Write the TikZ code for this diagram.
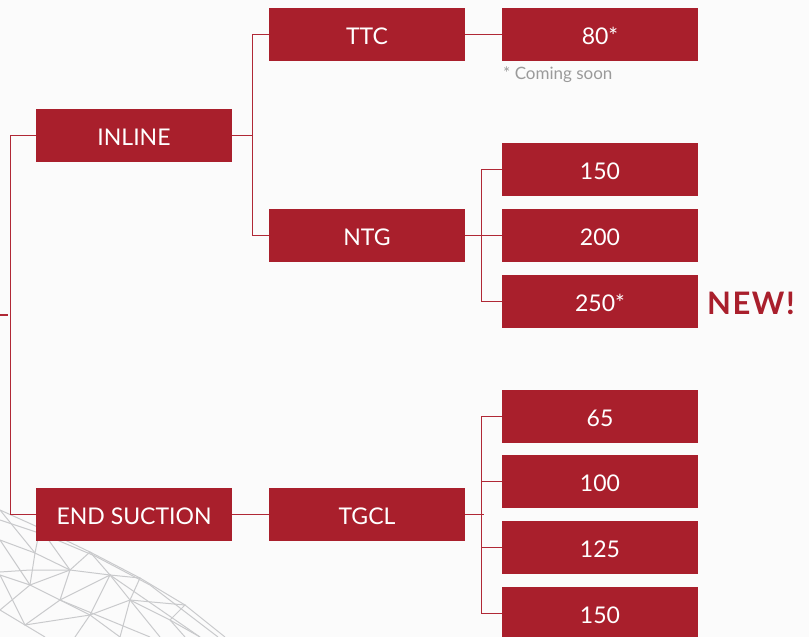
\documentclass[tikz,border=0pt]{standalone}
\usepackage{fontspec}
\setmainfont{Lato}
\definecolor{boxred}{HTML}{A91F2C}
\definecolor{linered}{HTML}{B02836}
\definecolor{bg}{HTML}{FBFBFB}
\definecolor{meshgray}{HTML}{C9CACC}
\definecolor{notegray}{HTML}{9A9A9A}
\tikzset{
  prodbox/.style={rectangle, fill=boxred, minimum width=196pt, minimum height=53pt,
    inner sep=0pt, text=white, font=\fontsize{23}{23}\selectfont,
    text height=19.5pt, text depth=0pt},
  conn/.style={draw=linered, line width=1.2pt},
  meshline/.style={draw=meshgray, line width=1pt},
}
\begin{document}
\begin{tikzpicture}[x=1pt,y=-1pt]
\fill[bg] (0,0) rectangle (809,637);
\useasboundingbox (0,0) rectangle (809,637);
% wireframe mesh (decoration)
\begin{scope}[meshline]
\draw (0,510) -- (40,528) -- (90,552) -- (140,578) -- (185,605) -- (225,637);
\draw (0,520) -- (45,535) -- (95,556) -- (150,585) -- (218,637);
\draw (0,540) -- (35,553) -- (70,570) -- (110,575) -- (130,600) -- (170,620) -- (200,637);
\draw (0,572) -- (30,570) -- (70,570);
\draw (0,575) -- (30,585) -- (60,600) -- (90,615) -- (120,637);
\draw (0,610) -- (25,625) -- (45,637);
\draw (0,510) -- (35,553) -- (40,528);
\draw (40,528) -- (70,570) -- (90,552) -- (110,575) -- (140,578) -- (130,600) -- (185,605) -- (170,620);
\draw (35,553) -- (30,585) -- (70,570) -- (60,600) -- (110,575) -- (90,615) -- (130,600) -- (120,637);
\draw (0,540) -- (30,585);
\draw (0,575) -- (25,625) -- (60,600);
\draw (25,625) -- (90,615);
\draw (30,585) -- (0,610);
\draw (130,600) -- (160,637);
\draw (170,620) -- (185,637);
\draw (90,615) -- (75,637);
\draw (60,600) -- (150,637);
\draw (110,575) -- (200,637);
\end{scope}
% boxes
\node[prodbox] (inline) at (134,135.5) {INLINE};
\node[prodbox] (endsuc) at (134,514.5) {END SUCTION};
\node[prodbox] (ttc) at (367,34.5) {TTC};
\node[prodbox] (ntg) at (367,235.5) {NTG};
\node[prodbox] (tgcl) at (367,514.5) {TGCL};
\node[prodbox] (n80) at (600,34.5) {80*};
\node[prodbox] (n150) at (600,169.5) {150};
\node[prodbox] (n200) at (600,235.5) {200};
\node[prodbox] (n250) at (600,301.5) {250*};
\node[prodbox] (n65) at (600,416.5) {65};
\node[prodbox] (n100) at (600,481.5) {100};
\node[prodbox] (n125) at (600,547.5) {125};
\node[prodbox] (n150b) at (600,613.5) {150};
% notes
\node[anchor=west, inner sep=0pt, text=notegray, font=\fontsize{17}{17}\selectfont] (note) at (503,74.5) {* Coming soon};
\node[inner sep=0pt, text=boxred, font=\fontsize{31}{31}\selectfont\bfseries\addfontfeature{LetterSpace=5}] (new) at (751,303) {NEW!};
% connectors
\coordinate (stubL) at (0,315);
\coordinate (stubR) at (8,315);
\draw[conn] (stubL) -- (stubR);
\draw[conn] (inline.west) -- ++(-25,0) |- (endsuc.west);
\coordinate (j1) at (253,135.5);
\draw[conn] (inline.east) -- (j1);
\draw[conn] (ttc.west) -- ++(-16,0) |- (ntg.west);
\draw[conn] (ttc.east) -- (n80.west);
\draw[conn] (ntg.east) -- (n200.west);
\draw[conn] (n150.west) -- ++(-20,0) |- (n250.west);
\draw[conn] (endsuc.east) -- (tgcl.west);
\coordinate (j2) at (484,514.5);
\draw[conn] (tgcl.east) -- (j2);
\draw[conn] (n65.west) -- ++(-20,0) |- (n150b.west);
\draw[conn] (n100.west) -- ++(-20,0);
\draw[conn] (n125.west) -- ++(-20,0);
\end{tikzpicture}
\end{document}
